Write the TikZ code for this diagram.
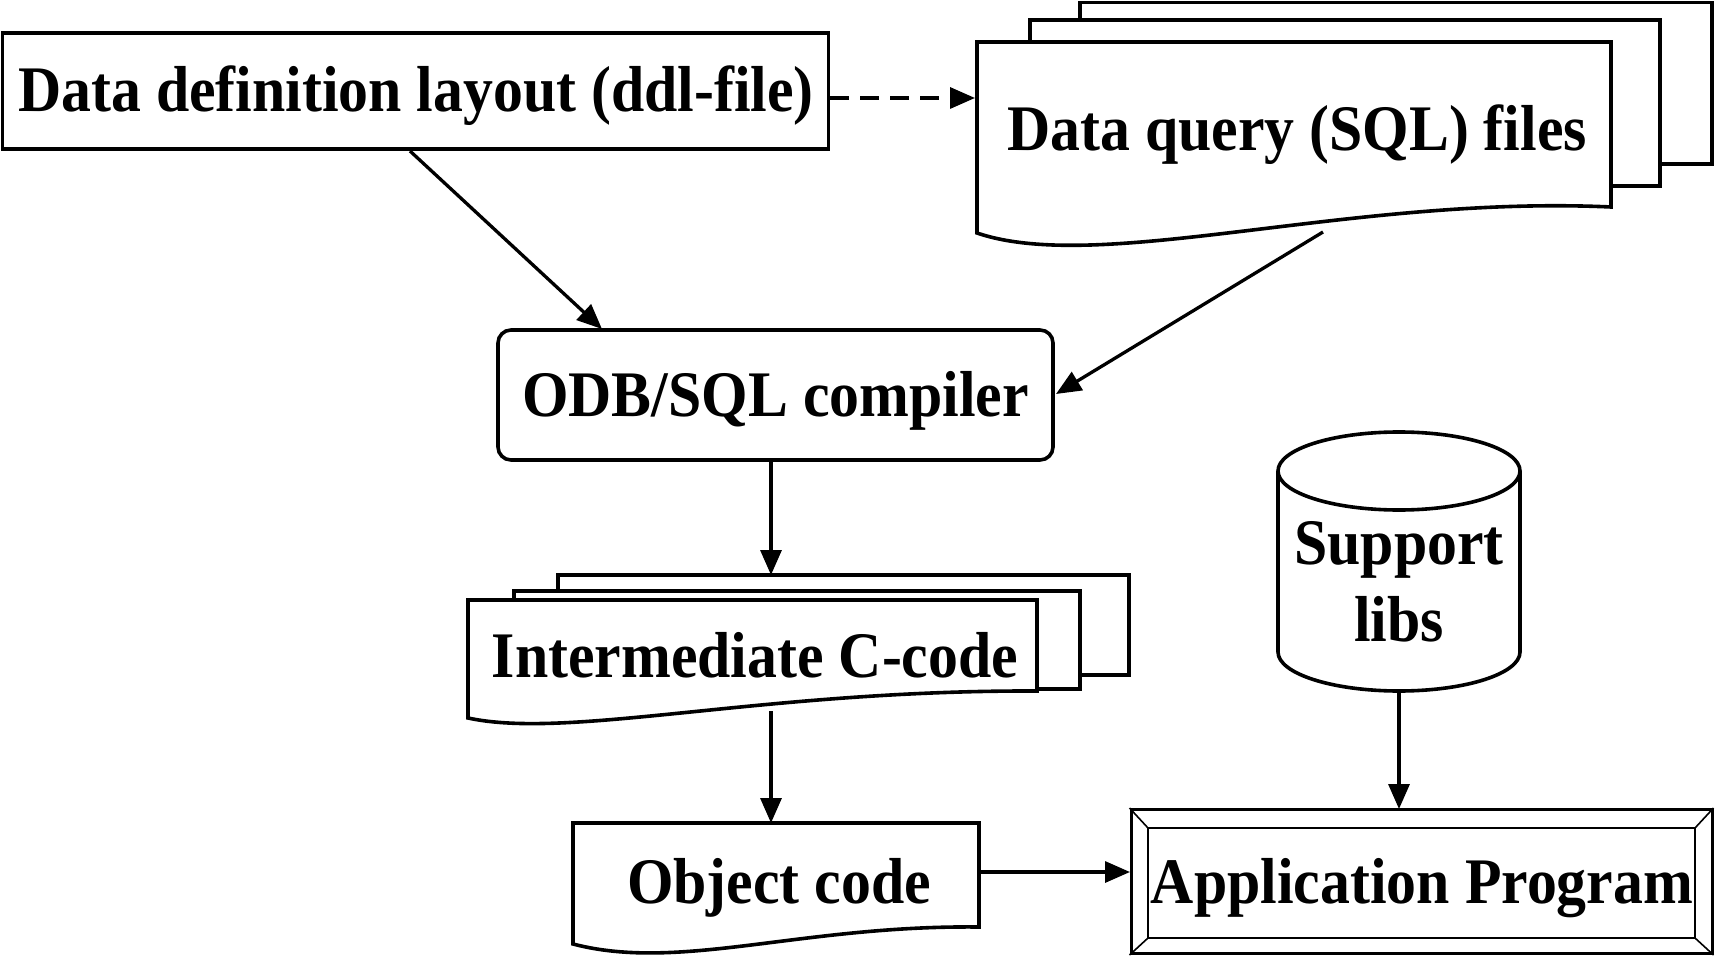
\documentclass[tikz,border=0pt]{standalone}
\usepackage{fontspec}
\newfontfamily\lblfont[FakeStretch=0.92]{Liberation Serif}
\usetikzlibrary{arrows.meta}
\begin{document}
\begin{tikzpicture}[x=1pt,y=-1pt,line width=3.6pt,line join=miter,
  lbl/.style={font=\lblfont\bfseries\fontsize{65}{77}\selectfont,inner sep=0pt,align=center},
  box/.style={draw,fill=white,inner sep=0pt},
  sheet/.style={draw,fill=white},
  conn/.style={-{Triangle[length=25pt,width=21pt]},line width=3.3pt},
  dconn/.style={conn,dash pattern=on 19pt off 11pt}]
\useasboundingbox[fill=white] (0,0) rectangle (1715,957);

% ddl box
\node[box,minimum width=826pt,minimum height=116pt] (ddl) at (415.5,91) {};
\node[lbl] (ddlt) at (416,96) {Data definition layout (ddl-file)};

% SQL files stack
\draw[sheet] (1080,2.5) rectangle (1712,164);
\draw[sheet] (1030,20) rectangle (1660,186);
\draw[sheet] (977,42) -- (1611,42) -- (1611,207)
  .. controls (1350,195) and (1100,275) .. (977,233) -- cycle;
\node[lbl] (sql) at (1297,135) {Data query (SQL) files};
\coordinate (sqlin) at (975,98);
\coordinate (sqlout) at (1323,232);

% compiler
\node[box,rounded corners=13pt,minimum width=555pt,minimum height=130pt] (comp) at (775.5,395) {};
\node[lbl] (compt) at (775.5,401) {ODB/SQL compiler};
\coordinate (compin1) at (602,329);
\coordinate (compin2) at (1056,394);

% intermediate C-code stack
\draw[sheet] (558,575) rectangle (1129,675);
\draw[sheet] (514,591) rectangle (1080,689);
\draw[sheet] (468,600) -- (1037,600) -- (1037,691)
  .. controls (760,690) and (570,740) .. (468,718) -- cycle;
\node[lbl] (inter) at (755,655) {Intermediate C-code};
\coordinate (intertop) at (771,575);
\coordinate (interbot) at (771,711);

% object code
\draw[sheet] (573,823) -- (979,823) -- (979,927)
  .. controls (800,925) and (680,972) .. (573,944) -- cycle;
\node[lbl] (obj) at (779,888) {Object code};
\coordinate (objtop) at (771,823);
\coordinate (objright) at (979,872);

% support libs cylinder
\draw[sheet] (1278,471) -- (1278,652)
  arc[start angle=180,end angle=0,x radius=121,y radius=39] -- (1520,471);
\draw[sheet] (1399,471) ellipse[x radius=121,y radius=39];
\node[lbl] (supp) at (1399,582) {Support\\libs};
\coordinate (suppbot) at (1399,691);

% application program
\node[box,minimum width=581pt,minimum height=144pt,line width=3pt] (app) at (1421.5,881.5) {};
\draw[line width=2.4pt] (1148,828) rectangle (1695,938);
\draw[line width=1.6pt] (app.north west) -- (1148,828) (app.north east) -- (1695,828)
  (app.south west) -- (1148,938) (app.south east) -- (1695,938);
\node[lbl] (appt) at (1422,888) {Application Program};
\coordinate (appleft) at (1130,872);
\coordinate (apptop) at (1399,809);

% connectors
\draw[dconn] (ddl.east |- sqlin) -- (sqlin);
\draw[conn] (410,151) -- (compin1);
\draw[conn] (sqlout) -- (compin2);
\draw[conn] (comp.south -| intertop) -- (intertop);
\draw[conn] (interbot) -- (objtop);
\draw[conn] (objright) -- (appleft);
\draw[conn] (suppbot) -- (apptop);
\end{tikzpicture}
\end{document}
